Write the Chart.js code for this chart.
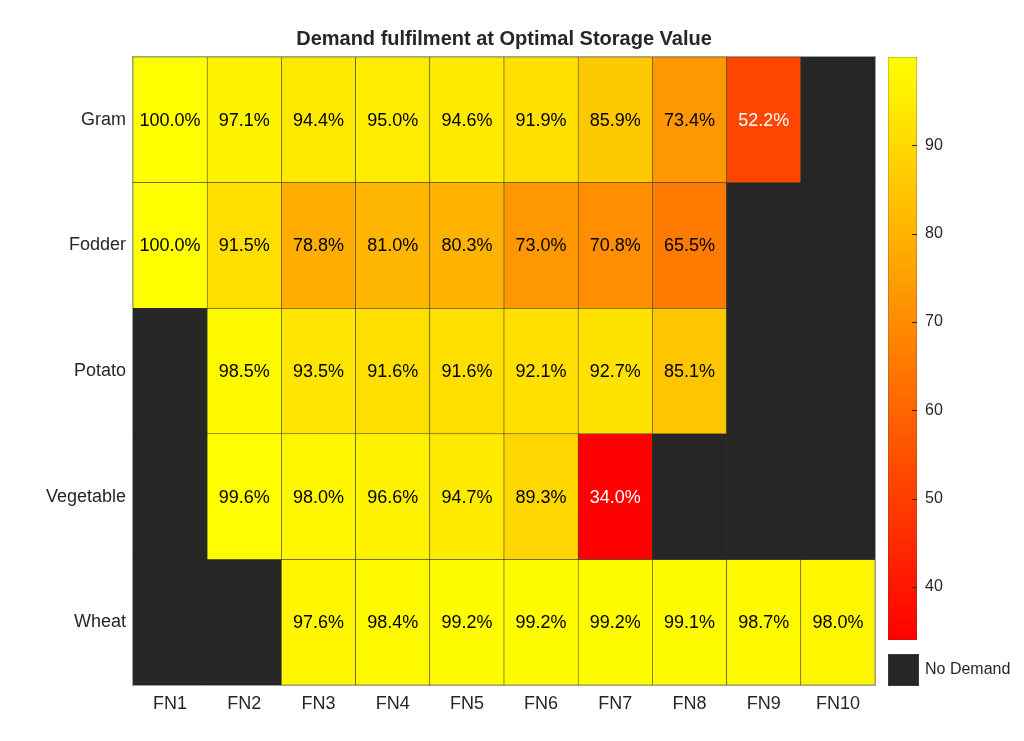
<!DOCTYPE html>
<html>
<head>
<meta charset="utf-8">
<script src="https://cdn.jsdelivr.net/npm/chart.js@4/dist/chart.umd.min.js"></script>
<style>
  body { margin: 0; background: #fff; font-family: "Liberation Sans", Arial, sans-serif; }
  #wrap { position: relative; width: 1024px; height: 741px; }
  #heat { position: absolute; left: 0; top: 0; }
  #bar { position: absolute; left: 860px; top: 0; }
  #nd-box { position: absolute; left: 888px; top: 654px; width: 29px; height: 30px; background: #262626; border: 0.5px solid #3a3a3a; }
  #nd-text { position: absolute; left: 925px; top: 660px; font-size: 16px; color: #262626; }
</style>
</head>
<body>
<div id="wrap">
  <canvas id="heat" width="1024" height="741"></canvas>
  <canvas id="bar" width="164" height="741"></canvas>
  <div id="nd-box"></div>
  <div id="nd-text">No Demand</div>
</div>
<script>
var columns = ['FN1', 'FN2', 'FN3', 'FN4', 'FN5', 'FN6', 'FN7', 'FN8', 'FN9', 'FN10'];
var rows = ['Gram', 'Fodder', 'Potato', 'Vegetable', 'Wheat'];

// null = no demand
var gram = [100.0, 97.1, 94.4, 95.0, 94.6, 91.9, 85.9, 73.4, 52.2, null];
var fodder = [100.0, 91.5, 78.8, 81.0, 80.3, 73.0, 70.8, 65.5, null, null];
var potato = [null, 98.5, 93.5, 91.6, 91.6, 92.1, 92.7, 85.1, null, null];
var vegetable = [null, 99.6, 98.0, 96.6, 94.7, 89.3, 34.0, null, null, null];
var wheat = [null, null, 97.6, 98.4, 99.2, 99.2, 99.2, 99.1, 98.7, 98.0];

var colorMin = 34.0;
var colorMax = 100.0;
var colorTicks = [40, 50, 60, 70, 80, 90];

var values = [gram, fodder, potato, vegetable, wheat];
var noDemand = '#262626';
var font = '"Liberation Sans", Arial, sans-serif';

// matlab autumn colormap
function autumn(v) {
    var t = (v - colorMin) / (colorMax - colorMin);
    t = Math.max(0, Math.min(1, t));
    return 'rgb(255,' + Math.round(255 * t) + ',0)';
}

var datasets = values.map(function (vals, r) {
    return {
        label: rows[r],
        vals: vals,
        data: vals.map(function () { return [r, r + 1]; }),
        backgroundColor: vals.map(function (v) { return v == null ? noDemand : autumn(v); }),
        borderColor: vals.map(function (v) { return v == null ? noDemand : '#403c30'; }),
        borderWidth: 0.6,
        borderSkipped: false,
        barPercentage: 1,
        categoryPercentage: 1
    };
});

var cellLabels = {
    id: 'cellLabels',
    afterDatasetsDraw: function (chart) {
        var ctx = chart.ctx;
        var a = chart.chartArea;
        ctx.save();
        ctx.strokeStyle = '#a0a0a0';
        ctx.lineWidth = 1;
        ctx.strokeRect(a.left - 0.5, a.top - 0.5, a.right - a.left + 1, a.bottom - a.top + 1);
        ctx.font = '18px ' + font;
        ctx.textAlign = 'center';
        ctx.textBaseline = 'middle';
        chart.data.datasets.forEach(function (ds, i) {
            chart.getDatasetMeta(i).data.forEach(function (el, j) {
                var v = ds.vals[j];
                if (v == null) return;
                var t = (v - colorMin) / (colorMax - colorMin);
                ctx.fillStyle = t < 0.4 ? '#ffffff' : '#000000';
                ctx.fillText(v.toFixed(1) + '%', el.x, (el.y + el.base) / 2 + 1);
            });
        });
        ctx.restore();
    }
};

new Chart(document.getElementById('heat'), {
    type: 'bar',
    data: { labels: columns, datasets: datasets },
    options: {
        responsive: false,
        animation: false,
        layout: { padding: { left: 0, right: 149, top: 0, bottom: 16 } },
        plugins: {
            legend: { display: false },
            tooltip: { enabled: false },
            title: {
                display: true,
                text: 'Demand fulfilment at Optimal Storage Value',
                color: '#262626',
                font: { family: font, size: 20, weight: 'bold' },
                padding: { top: 27, bottom: 6 },
                fullSize: false
            }
        },
        scales: {
            x: {
                stacked: true,
                grid: { display: false, drawTicks: false },
                border: { display: false },
                ticks: { color: '#262626', font: { family: font, size: 18 }, padding: 8 },
                afterFit: function (s) { s.height = 40; }
            },
            y: {
                stacked: false,
                min: 0,
                max: 5,
                reverse: true,
                grid: { display: false, drawTicks: false },
                border: { display: false },
                afterBuildTicks: function (s) {
                    s.ticks = rows.map(function (r, i) { return { value: i + 0.5 }; });
                },
                ticks: {
                    color: '#262626',
                    font: { family: font, size: 18 },
                    padding: 7,
                    callback: function (v) { return rows[Math.floor(v)]; }
                },
                afterFit: function (s) { s.width = 133; }
            }
        }
    },
    plugins: [cellLabels]
});

// inward tick marks on the colorbar
var innerTicks = {
    id: 'innerTicks',
    afterDatasetsDraw: function (chart) {
        var ctx = chart.ctx;
        var ys = chart.scales.y;
        var right = chart.chartArea.right;
        ctx.save();
        ctx.strokeStyle = '#262626';
        ctx.lineWidth = 1;
        ys.ticks.forEach(function (t) {
            var y = Math.round(ys.getPixelForValue(t.value)) + 0.5;
            ctx.beginPath();
            ctx.moveTo(right - 5, y);
            ctx.lineTo(right, y);
            ctx.stroke();
        });
        ctx.restore();
    }
};

// colorbar
new Chart(document.getElementById('bar'), {
    type: 'bar',
    data: {
        labels: [''],
        datasets: [{
            data: [[colorMin, colorMax]],
            backgroundColor: function (c) {
                var chart = c.chart;
                if (!chart.chartArea) return '#ff0';
                var ys = chart.scales.y;
                var g = chart.ctx.createLinearGradient(0, ys.getPixelForValue(colorMax), 0, ys.getPixelForValue(colorMin));
                g.addColorStop(0, autumn(colorMax));
                g.addColorStop(0.5, autumn((colorMax + colorMin) / 2));
                g.addColorStop(1, autumn(colorMin));
                return g;
            },
            borderColor: '#3a3a3a',
            borderWidth: 0.6,
            borderSkipped: false,
            barPercentage: 1,
            categoryPercentage: 1
        }]
    },
    options: {
        responsive: false,
        animation: false,
        layout: { padding: { left: 28, right: 0, top: 57, bottom: 101 } },
        plugins: { legend: { display: false }, tooltip: { enabled: false } },
        scales: {
            x: { display: false },
            y: {
                position: 'right',
                min: colorMin,
                max: colorMax,
                afterBuildTicks: function (s) {
                    s.ticks = colorTicks.map(function (v) { return { value: v }; });
                },
                grid: { display: false, drawTicks: false },
                border: { display: false },
                ticks: { color: '#262626', font: { family: font, size: 16 }, padding: 8 },
                afterFit: function (s) { s.width = 107; }
            }
        }
    },
    plugins: [innerTicks]
});
</script>
</body>
</html>
